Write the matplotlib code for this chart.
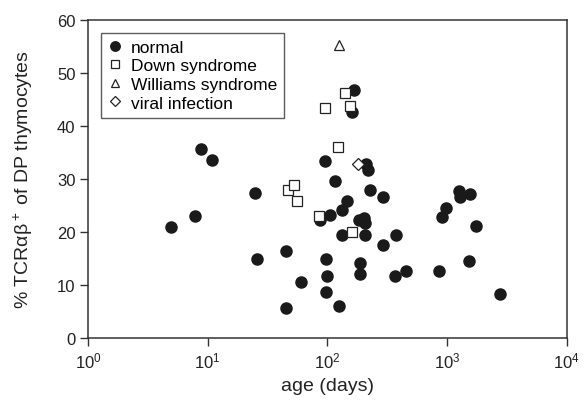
import matplotlib
matplotlib.use("Agg")
import matplotlib.pyplot as plt

plt.rcParams['font.family'] = ['Liberation Sans', 'DejaVu Sans']
plt.rcParams['mathtext.fontset'] = 'custom'
plt.rcParams['mathtext.rm'] = 'Liberation Sans'

# normal thymus donors
normal_age = [4.98, 7.86, 8.77, 10.9, 24.6, 25.9, 45.4, 45.4, 60.2, 86.9,
              95.7, 97.5, 100, 98, 106, 116, 125, 132, 132, 147,
              168, 160, 185, 204, 207, 207, 188, 188, 211, 220,
              228, 290, 290, 376, 369, 456, 860, 906, 985, 1256,
              1289, 1563, 1522, 1731, 2749]
normal_pct = [20.85, 23.0, 35.5, 33.5, 27.3, 14.9, 16.4, 5.65, 10.4, 22.2,
              33.25, 14.9, 11.7, 8.55, 23.2, 29.5, 6.0, 24.1, 19.4, 25.7,
              46.8, 42.5, 22.1, 22.5, 21.7, 19.45, 14.0, 12.0, 32.7, 31.7,
              27.9, 26.6, 17.4, 19.4, 11.7, 12.65, 12.65, 22.7, 24.4, 27.6,
              26.6, 27.0, 14.5, 21.0, 8.24]

down_age = [47.2, 52.2, 55.3, 85.7, 95.6, 122, 139, 155, 160]
down_pct = [27.9, 28.85, 25.7, 22.9, 43.4, 36.0, 46.2, 43.7, 20.0]

williams_age = [124.5]
williams_pct = [55.2]

viral_age = [179.5]
viral_pct = [32.8]

fig = plt.figure(figsize=(5.85, 4.02), dpi=100)
ax = fig.add_axes([0.1504, 0.1577, 0.8186, 0.7911])

ax.plot(normal_age, normal_pct, 'o', color='#1a1a1a', markersize=8, label='normal')
ax.plot(down_age, down_pct, 's', mfc='white', mec='#222222', mew=0.9, markersize=7.5,
        label='Down syndrome')
ax.plot(williams_age, williams_pct, '^', mfc='white', mec='#222222', mew=0.9, markersize=7.5,
        label='Williams syndrome')
ax.plot(viral_age, viral_pct, 'D', mfc='white', mec='#222222', mew=0.9, markersize=6,
        label='viral infection')

ax.set_xscale('log')
ax.set_xlim(1, 1e4)
ax.set_ylim(0, 60)
ax.set_xticks([1, 10, 100, 1000, 10000])
ax.minorticks_off()
ax.set_yticks(range(0, 61, 10))
ax.tick_params(direction='out', length=6, width=1, labelsize=12, color='#333333',
               labelcolor='#222222', pad=3)
for s in ax.spines.values():
    s.set_color('#333333')
    s.set_linewidth(1.1)

ax.set_xlabel('age (days)', fontsize=14, color='#222222', labelpad=5)
ax.set_ylabel('% TCRαβ$^+$ of DP thymocytes', fontsize=14, color='#222222', labelpad=16)

leg = ax.legend(loc='upper left', fontsize=12.5, frameon=True, fancybox=False,
                edgecolor='#333333', handlelength=0.8, handletextpad=0.5,
                borderpad=0.4, labelspacing=0.2, borderaxespad=0.75, markerscale=0.85)
leg.get_frame().set_linewidth(1.0)

fig.savefig('out.png', dpi=100)
